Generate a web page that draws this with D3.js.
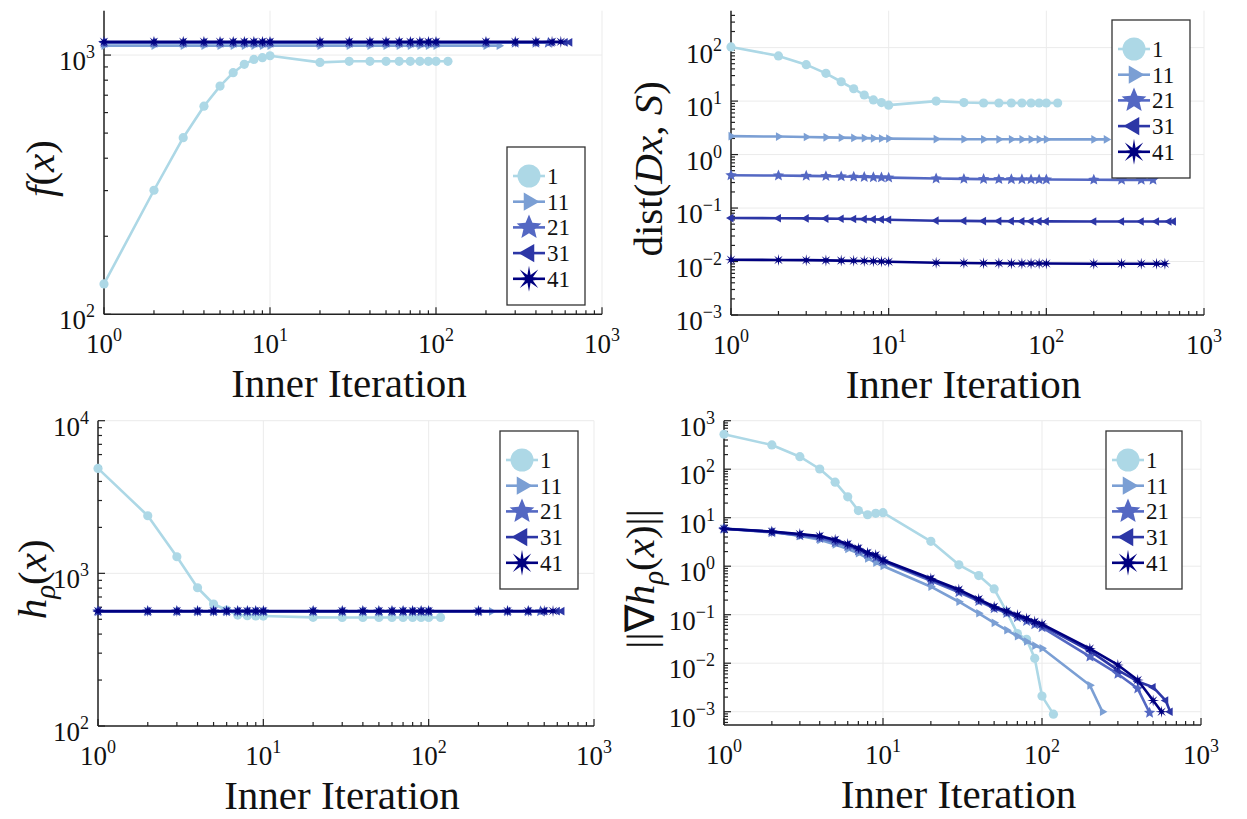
<!DOCTYPE html>
<html>
<head>
<meta charset="UTF-8">
<style>
  body { margin: 0; background: white; }
  svg { display: block; font-family: "Liberation Serif", "Times New Roman", serif; }
</style>
</head>
<body>
<svg></svg>
<script src="https://d3js.org/d3.v7.min.js"></script>
<script>
let width = 1247, height = 819;

let svg = d3.select("svg")
    .attr("width", width)
    .attr("height", height)
    .attr("viewBox", `0 0 ${width} ${height}`);

// logged inner iterations for outer iterations 1, 11, 21, 31, 41
const iters1  = [1,2,3,4,5,6,7,8,9,10,20,30,40,50,60,70,80,90,100,118];
const iters11 = [1,2,3,4,5,6,7,8,9,10,20,30,40,50,60,70,80,90,100,200,240];
const iters21 = [1,2,3,4,5,6,7,8,9,10,20,30,40,50,60,70,80,90,100,200,300,400,475];
const iters31 = [1,2,3,4,5,6,7,8,9,10,20,30,40,50,60,70,80,90,100,200,300,400,500,600,640];
const iters41 = [1,2,3,4,5,6,7,8,9,10,20,30,40,50,60,70,80,90,100,200,300,400,500,565];

const seriesNames = ["1", "11", "21", "31", "41"];

// f(x)
const f1  = [131,301,480,635,759,855,921,962,977,994,937,946,946,946,946,946,946,946,946,946];
const f11 = [1087,1087,1087,1087,1087,1087,1087,1087,1087,1087,1087,1087,1087,1087,1087,1087,1087,1087,1087,1087,1087];
const f21 = [1115,1115,1115,1115,1115,1115,1115,1115,1115,1115,1115,1115,1115,1115,1115,1115,1115,1115,1115,1115,1115,1115,1115];
const f31 = [1120,1120,1120,1120,1120,1120,1120,1120,1120,1120,1120,1120,1120,1120,1120,1120,1120,1120,1120,1120,1120,1120,1120,1120,1120];
const f41 = [1125,1125,1125,1125,1125,1125,1125,1125,1125,1125,1125,1125,1125,1125,1125,1125,1125,1125,1125,1125,1125,1125,1125,1125];

// dist(Dx, S)
const d1  = [103,70,48,33,23,17,13,10.5,9.4,8.4,10,9.4,9.2,9.2,9.2,9.2,9.2,9.2,9.2,9.2];
const d11 = [2.21,2.17,2.13,2.10,2.07,2.05,2.03,2.01,2.00,1.99,1.95,1.94,1.93,1.93,1.93,1.92,1.92,1.92,1.92,1.92,1.92];
const d21 = [0.41,0.405,0.40,0.395,0.39,0.385,0.38,0.376,0.373,0.37,0.356,0.351,0.348,0.346,0.345,0.344,0.343,0.342,0.341,0.338,0.337,0.336,0.336];
const d31 = [0.065,0.0645,0.064,0.0635,0.063,0.0625,0.062,0.0615,0.061,0.0605,0.058,0.0575,0.057,0.057,0.0568,0.0566,0.0565,0.0564,0.0563,0.0561,0.056,0.056,0.056,0.056,0.056];
const d41 = [0.0108,0.0107,0.0106,0.0105,0.0104,0.0103,0.0102,0.0101,0.0100,0.0099,0.0095,0.0094,0.0093,0.0093,0.0092,0.0092,0.0092,0.0092,0.0092,0.0091,0.0091,0.0091,0.0091,0.0091];

// h_rho(x)
const h1  = [4870,2385,1285,805,630,575,533,528,526,525,515,514,514,514,514,514,514,514,514,514];
const h11 = [563,563,563,563,563,563,563,563,563,563,563,563,563,563,563,563,563,563,563,563,563];
const h21 = [564,564,564,564,564,564,564,564,564,564,564,564,564,564,564,564,564,564,564,564,564,564,564];
const h31 = [565,565,565,565,565,565,565,565,565,565,565,565,565,565,565,565,565,565,565,565,565,565,565,565,565];
const h41 = [566,566,566,566,566,566,566,566,566,566,566,566,566,566,566,566,566,566,566,566,566,566,566,566];

// ||grad h_rho(x)||
const g1  = [525,316,181,101,54,27,14,11.5,12.3,12.7,3.26,1.07,0.64,0.34,0.114,0.041,0.031,0.0126,0.0021,0.00089];
const g11 = [6.0,5.15,4.2,3.5,2.8,2.26,1.85,1.45,1.18,1.01,0.378,0.185,0.107,0.068,0.048,0.036,0.028,0.023,0.0203,0.0035,0.001];
const g21 = [5.9,5.0,4.3,3.8,3.1,2.6,2.1,1.75,1.5,1.25,0.5,0.29,0.19,0.135,0.108,0.088,0.074,0.063,0.055,0.0136,0.006,0.003,0.00095];
const g31 = [5.9,5.1,4.5,4.1,3.4,2.8,2.3,1.85,1.62,1.3,0.54,0.31,0.2,0.14,0.113,0.093,0.079,0.068,0.06,0.018,0.0072,0.0042,0.0032,0.0017,0.001];
const g41 = [5.9,5.2,4.6,4.2,3.5,2.87,2.35,1.9,1.7,1.34,0.56,0.33,0.21,0.146,0.119,0.099,0.084,0.072,0.064,0.020,0.0092,0.0045,0.0017,0.001];

const iters = [iters1, iters11, iters21, iters31, iters41];
const colors = ["#add8e6", "#7b9fd4", "#5468c3", "#2c36a6", "#000080"];
const markers = ["circle", "rtriangle", "star5", "ltriangle", "star8"];
const markerSize = [4.6, 5, 6, 5, 6];
const legendMarkerSize = [11.5, 10.5, 13, 10.5, 13];

// y labels as [text, style] pieces
const panels = [
    {left: 104, right: 602, top: 10.7, bottom: 314.3, yDomain: [100, 1483],
     values: [f1, f11, f21, f31, f41], legend: [507, 147, 78, 158], labelX: 40,
     ylabel: [["f", "i"], ["(", "r"], ["x", "i"], [")", "r"]]},
    {left: 731, right: 1204, top: 10.7, bottom: 315, yDomain: [0.001, 490],
     values: [d1, d11, d21, d31, d41], legend: [1112, 20, 78, 158], labelX: 648,
     ylabel: [["dist(", "r"], ["Dx", "i"], [", ", "r"], ["S", "i"], [")", "r"]]},
    {left: 98, right: 594, top: 420.7, bottom: 726, yDomain: [100, 10000],
     values: [h1, h11, h21, h31, h41], legend: [500, 431, 78, 158], labelX: 32,
     ylabel: [["h", "i"], ["ρ", "sub"], ["(", "r"], ["x", "i"], [")", "r"]]},
    {left: 724, right: 1201, top: 420.7, bottom: 725, yDomain: [0.000532, 1000],
     values: [g1, g11, g21, g31, g41], legend: [1106, 431, 76, 158], labelX: 640,
     ylabel: [["||∇", "r"], ["h", "i"], ["ρ", "sub"], ["(", "r"], ["x", "i"], [")||", "r"]]}
];

function markerPath(type, r) {
    if (type === "circle") return d3.symbol(d3.symbolCircle, Math.PI * r * r)();
    let pts = [];
    if (type === "rtriangle" || type === "ltriangle") {
        let a0 = type === "rtriangle" ? 0 : Math.PI;
        for (let k = 0; k < 3; k++) {
            let a = a0 + k * 2 * Math.PI / 3;
            pts.push([r * Math.cos(a), r * Math.sin(a)]);
        }
    } else {
        let n = type === "star5" ? 5 : 8;
        let inner = type === "star5" ? 0.45 : 0.32;
        for (let k = 0; k < 2 * n; k++) {
            let a = -Math.PI / 2 + k * Math.PI / n;
            let rr = k % 2 ? r * inner : r;
            pts.push([rr * Math.cos(a), rr * Math.sin(a)]);
        }
    }
    return "M" + pts.map(p => p.join(",")).join("L") + "Z";
}

function powLabel(text, e) {
    text.append("tspan").text("10");
    text.append("tspan")
        .attr("dy", -12)
        .attr("font-size", 18)
        .text(e < 0 ? "\u2212" + (-e) : e);
}

const isPow = v => Math.abs(Math.log10(v) - Math.round(Math.log10(v))) < 1e-9;

panels.forEach(p => {
    let g = svg.append("g");
    let x = d3.scaleLog().domain([1, 1000]).range([p.left, p.right]);
    let y = d3.scaleLog().domain(p.yDomain).range([p.bottom, p.top]);

    let xt = x.ticks(10), yt = y.ticks(10);

    // grid
    g.selectAll(".gx").data(xt.filter(isPow)).join("line")
        .attr("x1", d => x(d)).attr("x2", d => x(d))
        .attr("y1", p.top).attr("y2", p.bottom)
        .attr("stroke", "#ebebeb").attr("stroke-width", 1);
    g.selectAll(".gy").data(yt.filter(isPow)).join("line")
        .attr("x1", p.left).attr("x2", p.right)
        .attr("y1", d => y(d)).attr("y2", d => y(d))
        .attr("stroke", "#ebebeb").attr("stroke-width", 1);

    // spines and ticks
    g.append("line").attr("x1", p.left).attr("x2", p.right)
        .attr("y1", p.bottom).attr("y2", p.bottom)
        .attr("stroke", "#222").attr("stroke-width", 1.5);
    g.append("line").attr("x1", p.left).attr("x2", p.left)
        .attr("y1", p.top).attr("y2", p.bottom)
        .attr("stroke", "#222").attr("stroke-width", 1.5);

    g.append("g").selectAll("line").data(xt).join("line")
        .attr("x1", d => x(d)).attr("x2", d => x(d))
        .attr("y1", p.bottom).attr("y2", d => p.bottom - (isPow(d) ? 7 : 4))
        .attr("stroke", "#222").attr("stroke-width", 1.2);
    g.append("g").selectAll("line").data(yt).join("line")
        .attr("y1", d => y(d)).attr("y2", d => y(d))
        .attr("x1", p.left).attr("x2", d => p.left + (isPow(d) ? 7 : 4))
        .attr("stroke", "#222").attr("stroke-width", 1.2);

    // tick labels
    xt.filter(isPow).forEach(d => {
        let t = g.append("text")
            .attr("x", x(d)).attr("y", p.bottom + 39)
            .attr("text-anchor", "middle")
            .attr("font-size", 27).attr("fill", "#111");
        powLabel(t, Math.round(Math.log10(d)));
    });
    yt.filter(isPow).forEach(d => {
        let t = g.append("text")
            .attr("x", p.left - 9).attr("y", y(d) + 15)
            .attr("text-anchor", "end")
            .attr("font-size", 27).attr("fill", "#111");
        powLabel(t, Math.round(Math.log10(d)));
    });

    // axis titles
    g.append("text")
        .attr("x", (p.left + p.right) / 2 - 4)
        .attr("y", p.bottom + 83)
        .attr("text-anchor", "middle")
        .attr("font-size", 41).attr("fill", "#111")
        .text("Inner Iteration");

    let yl = g.append("text")
        .attr("transform", `translate(${p.labelX}, ${(p.top + p.bottom) / 2 + 6}) rotate(-90)`)
        .attr("text-anchor", "middle")
        .attr("dy", "0.35em")
        .attr("font-size", 41).attr("fill", "#111");
    let shift = 0;
    p.ylabel.forEach(([s, style]) => {
        let ts = yl.append("tspan").text(s);
        if (style === "i") ts.attr("font-style", "italic");
        if (style === "sub") {
            ts.attr("font-style", "italic").attr("font-size", 29).attr("dy", 9);
            shift = 9;
        } else if (shift) {
            ts.attr("dy", -shift);
            shift = 0;
        }
    });

    // series
    let line = d3.line().x(d => x(d[0])).y(d => y(d[1]));
    p.values.forEach((vals, i) => {
        let pts = vals.map((v, k) => [iters[i][k], v]);
        g.append("path")
            .attr("d", line(pts))
            .attr("fill", "none")
            .attr("stroke", colors[i])
            .attr("stroke-width", 2.6)
            .attr("stroke-linejoin", "round");
        g.append("g").selectAll("path").data(pts).join("path")
            .attr("transform", d => `translate(${x(d[0])}, ${y(d[1])})`)
            .attr("d", markerPath(markers[i], markerSize[i]))
            .attr("fill", colors[i]);
    });

    // legend
    let [lx, ly, lw, lh] = p.legend;
    let lg = g.append("g").attr("transform", `translate(${lx}, ${ly})`);
    lg.append("rect")
        .attr("width", lw).attr("height", lh)
        .attr("fill", "white").attr("stroke", "#333").attr("stroke-width", 1.3);
    seriesNames.forEach((name, i) => {
        let cy = 29 + i * 25.7;
        lg.append("line")
            .attr("x1", 6).attr("x2", 38).attr("y1", cy).attr("y2", cy)
            .attr("stroke", colors[i]).attr("stroke-width", 2.6);
        lg.append("path")
            .attr("transform", `translate(22, ${cy})`)
            .attr("d", markerPath(markers[i], legendMarkerSize[i]))
            .attr("fill", colors[i]);
        lg.append("text")
            .attr("x", 40).attr("y", cy + 8)
            .attr("font-size", 23).attr("fill", "#111")
            .text(name);
    });
});
</script>
</body>
</html>
